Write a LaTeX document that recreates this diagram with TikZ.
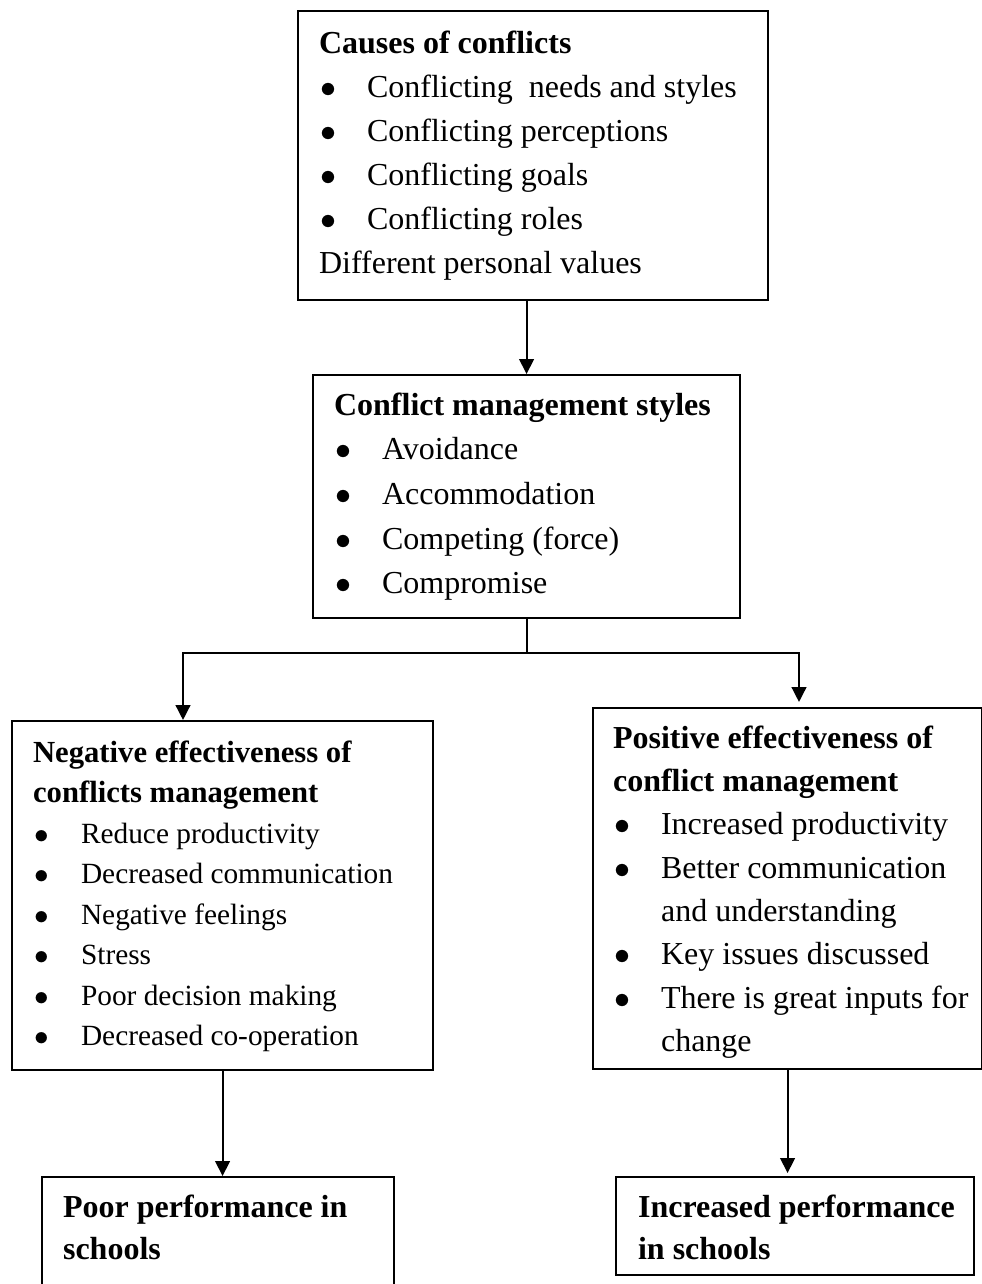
\documentclass[tikz,border=0pt]{standalone}
\usepackage{fontspec}
\setmainfont{Liberation Serif}
\usetikzlibrary{arrows.meta,calc}
\newcommand{\bl}{\makebox[18pt][l]{\hspace{0.5pt}$\bullet$}}
\newcommand{\boxtext}[5]{\hspace*{#1}\parbox[c][#3][t]{#2}{\raggedright\rule{0pt}{#4}#5}}
\begin{document}
\begin{tikzpicture}[x=0.375pt,y=-0.375pt,>={Triangle[width=5.5pt,length=5.6pt]},line width=0.8pt,
	cbox/.style={draw,inner sep=0pt,anchor=north west}]
		\useasboundingbox (0,0) rectangle (982,1284);
		\node[cbox] (causes) at (297,10) {\boxtext{7.875pt}{168.375pt}{108.375pt}{15.75pt}{\fontsize{12}{16.5}\selectfont
			\textbf{Causes of conflicts}\\
			\bl Conflicting\ \ needs and styles\\
			\bl Conflicting perceptions\\
			\bl Conflicting goals\\
			\bl Conflicting roles\\
			Different personal values}};
		\node[cbox] (styles) at (312,374) {\boxtext{7.875pt}{152.25pt}{91.125pt}{15pt}{\fontsize{12}{16.75}\selectfont
			\textbf{Conflict management styles}\\
			\bl Avoidance\\
			\bl Accommodation\\
			\bl Competing (force)\\
			\bl Compromise}};
		\node[cbox] (negative) at (11,720) {\boxtext{7.875pt}{150pt}{130.875pt}{15.375pt}{\fontsize{11}{15.2}\selectfont
			{\fontsize{11.5}{15.2}\selectfont\textbf{Negative effectiveness of}}\\
			{\fontsize{11.5}{15.2}\selectfont\textbf{conflicts management}}\\
			\bl Reduce productivity\\
			\bl Decreased communication\\
			\bl Negative feelings\\
			\bl Stress\\
			\bl Poor decision making\\
			\bl Decreased co-operation}};
		\node[cbox] (positive) at (592,707) {\boxtext{7.5pt}{138.375pt}{135.375pt}{15pt}{\fontsize{12}{16.25}\selectfont
			\textbf{Positive effectiveness of}\\
			\textbf{conflict management}\\
			\bl Increased productivity\\
			\bl Better communication\\
			\hspace*{18pt}and understanding\\
			\bl Key issues discussed\\
			\bl There is great inputs for\\
			\hspace*{18pt}change}};
		\node[cbox] (poor) at (41,1176) {\boxtext{7.875pt}{124.125pt}{46.5pt}{15.25pt}{\fontsize{12}{15.6}\selectfont
			\textbf{Poor performance in}\\
			\textbf{schools}}};
		\node[cbox] (increased) at (615,1176) {\boxtext{8.25pt}{126pt}{36.75pt}{15.25pt}{\fontsize{12}{15.6}\selectfont
			\textbf{Increased performance}\\
			\textbf{in schools}}};
		\coordinate (forkL) at (183,653);
		\coordinate (forkR) at (799,653);
		\draw[->] (causes.south -| styles.north) -- (styles.north);
		\draw (styles.south) -- (styles.south |- forkL);
		\draw[->] (styles.south |- forkL) -| (forkL |- negative.north);
		\draw[->] (styles.south |- forkR) -| ($(forkR |- positive.north)+(0,-5)$);
		\draw[->] (negative.south) -- (negative.south |- poor.north);
		\draw[->] (positive.south) -- ($(positive.south |- increased.north)+(0,-3)$);
\end{tikzpicture}
\end{document}
